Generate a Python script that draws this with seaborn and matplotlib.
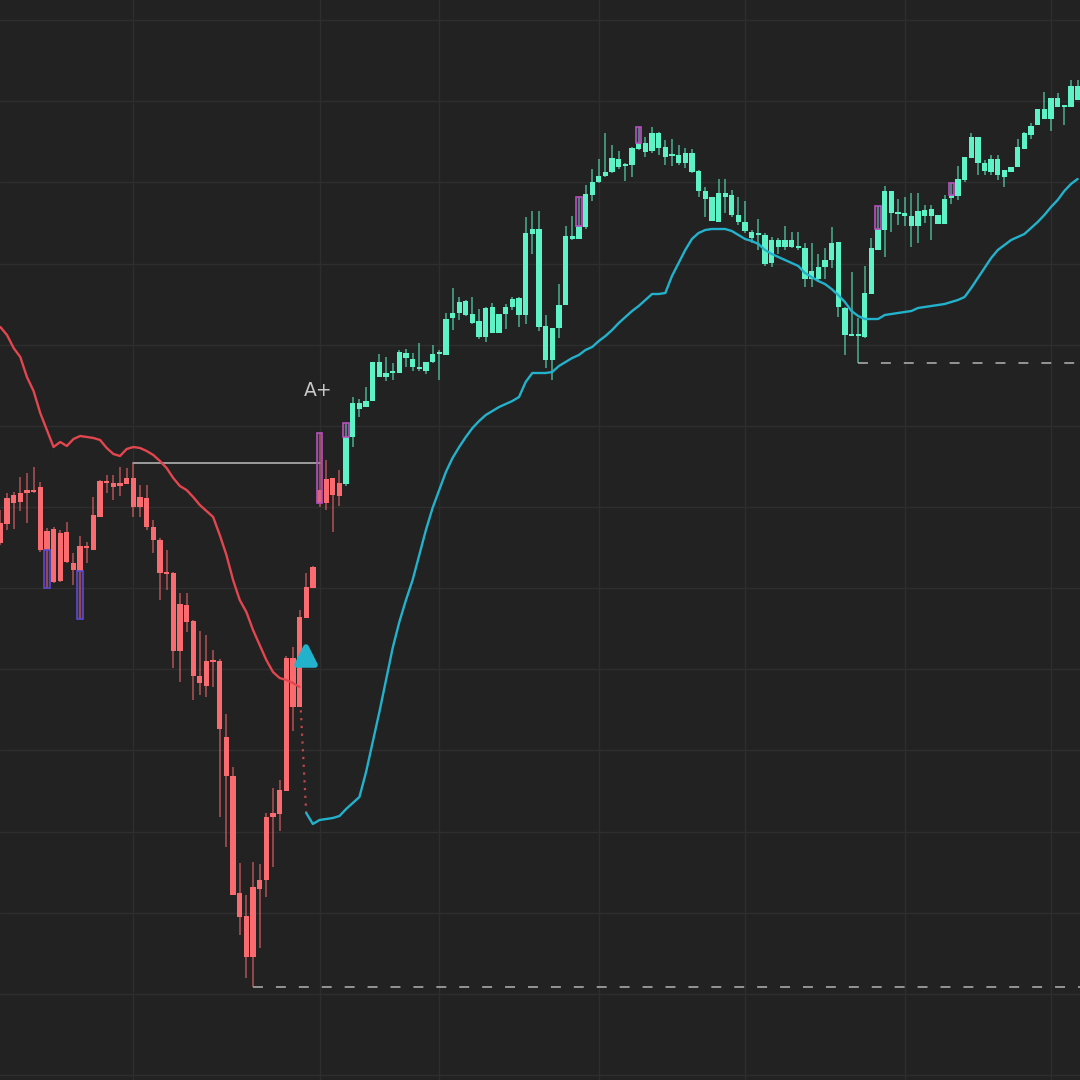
import matplotlib
matplotlib.use('Agg')
import matplotlib.pyplot as plt
from matplotlib.markers import MarkerStyle
import numpy as np
import seaborn as sns

# candle data, one value per bar (bar 0 is the left edge)
opens = [55.7, 58.2, 58.5, 58.7, 59.0, 58.9, 59.3, 54.9, 55.1, 54.7,
         54.8, 51.7, 53.4, 53.3, 56.5, 59.9, 59.9, 59.7, 59.7, 60.2,
         60.2, 58.3, 58.2, 55.3, 54.0, 50.7, 50.7, 47.6, 47.5, 45.9,
         40.4, 41.9, 42.0, 41.9, 34.3, 30.4, 18.7, 16.4, 19.3, 20.0,
         26.3, 26.7, 29.0, 42.2, 42.2, 46.3, 49.3, 51.3, 59.0, 60.1,
         60.2, 59.7, 59.6, 64.3, 67.1, 67.3, 67.9, 70.3, 70.3, 70.7,
         70.7, 72.2, 71.3, 71.1, 70.9, 71.8, 72.6, 72.5, 76.2, 76.7,
         76.5, 75.7, 74.3, 74.3, 74.7, 74.7, 76.6, 77.3, 76.5, 76.5,
         84.6, 75.3, 72.0, 72.0, 75.2, 77.5, 84.1, 84.1, 85.3, 88.5,
         89.8, 90.4, 90.8, 91.3, 91.4, 91.5, 93.1, 92.8, 92.9, 93.2,
         92.3, 92.4, 91.7, 91.7, 90.8, 88.9, 88.1, 85.9, 85.8, 88.3,
         86.5, 85.8, 84.9, 84.2, 84.5, 81.6, 81.7, 83.3, 83.3, 83.3,
         83.2, 80.1, 80.1, 80.1, 81.3, 82.0, 77.3, 74.5, 74.4, 74.4,
         74.3, 78.6, 83.0, 85.0, 86.7, 86.6, 86.4, 85.4, 85.4, 86.4,
         86.4, 85.6, 85.6, 88.2, 88.4, 90.0, 92.2, 91.7, 90.9, 90.8,
         90.5, 90.3, 90.8, 91.3, 93.1, 94.5, 95.5, 96.1, 96.1, 97.3,
         97.3, 97.3, 98.0]
highs = [57.0, 58.7, 58.8, 60.3, 60.7, 61.3, 59.8, 55.2, 55.3, 55.0,
         55.8, 52.7, 54.4, 53.8, 58.3, 60.0, 60.5, 60.5, 61.3, 61.2,
         61.7, 59.5, 59.5, 56.0, 54.2, 53.0, 50.8, 48.7, 48.7, 46.0,
         44.9, 44.5, 43.0, 42.1, 36.6, 31.3, 21.7, 18.5, 21.8, 21.6,
         26.7, 29.2, 30.0, 42.4, 43.3, 47.0, 50.7, 51.4, 64.7, 62.0,
         60.2, 61.0, 65.7, 68.3, 68.1, 69.3, 71.8, 72.6, 72.3, 71.7,
         73.0, 73.1, 72.7, 73.7, 71.8, 73.5, 73.0, 76.7, 79.2, 78.3,
         78.0, 78.3, 77.1, 77.3, 77.7, 76.6, 77.6, 78.3, 78.3, 86.3,
         86.9, 86.9, 76.5, 75.2, 79.6, 85.4, 86.4, 88.3, 89.5, 91.1,
         92.1, 94.7, 93.5, 92.9, 91.7, 93.3, 95.3, 94.3, 95.3, 94.8,
         94.0, 94.1, 93.5, 93.2, 93.1, 91.0, 89.3, 88.3, 90.1, 90.1,
         89.0, 88.3, 87.9, 85.0, 86.1, 84.7, 84.3, 84.2, 85.4, 84.8,
         84.8, 83.7, 83.7, 82.6, 83.2, 85.3, 83.8, 77.3, 80.8, 76.2,
         81.4, 84.2, 87.4, 89.4, 88.9, 88.1, 88.3, 88.7, 88.7, 87.5,
         87.5, 86.5, 88.5, 89.7, 91.4, 92.3, 94.7, 94.3, 92.0, 92.5,
         92.5, 91.0, 91.3, 94.1, 94.8, 95.7, 97.1, 98.8, 98.2, 98.7,
         97.4, 100.0, 100.0]
lows = [53.5, 55.0, 55.1, 56.9, 55.7, 58.7, 52.8, 49.2, 49.7, 49.8,
        51.7, 49.5, 46.1, 51.7, 53.0, 56.3, 58.7, 58.0, 58.4, 59.6,
        56.3, 56.3, 55.0, 52.7, 48.0, 49.0, 41.2, 39.8, 44.8, 38.0,
        38.5, 38.3, 39.3, 26.3, 23.3, 18.5, 14.5, 10.2, 9.3, 13.2,
        18.3, 21.3, 24.9, 28.9, 34.9, 37.3, 46.2, 49.2, 57.3, 57.0,
        54.8, 57.4, 59.4, 63.3, 66.3, 67.3, 67.9, 70.3, 69.9, 70.0,
        70.7, 71.3, 70.9, 70.9, 70.6, 71.7, 70.0, 72.5, 75.0, 76.0,
        76.4, 75.6, 74.1, 73.8, 74.7, 74.7, 75.1, 77.0, 75.3, 75.6,
        82.6, 74.9, 71.2, 70.0, 74.2, 77.5, 84.0, 84.1, 85.1, 87.9,
        89.7, 90.3, 90.7, 91.1, 89.9, 90.3, 93.0, 92.3, 92.7, 92.5,
        91.5, 91.4, 91.5, 91.2, 90.7, 88.3, 86.3, 85.9, 85.8, 86.7,
        86.3, 85.5, 84.7, 83.7, 83.0, 81.4, 81.3, 82.6, 83.0, 83.2,
        83.0, 79.3, 79.3, 79.8, 80.1, 81.2, 76.3, 72.5, 74.4, 71.7,
        74.2, 78.6, 83.0, 82.3, 84.8, 85.5, 85.4, 83.3, 83.7, 85.7,
        84.0, 85.6, 85.6, 87.6, 88.0, 89.8, 92.2, 90.5, 90.5, 90.5,
        90.0, 89.3, 90.8, 91.3, 93.1, 94.1, 95.5, 96.1, 94.9, 97.3,
        95.5, 97.3, 98.0]
closes = [53.7, 55.6, 57.7, 57.8, 58.7, 58.8, 53.0, 53.0, 49.8, 49.9,
          51.8, 51.0, 50.9, 53.2, 53.0, 56.3, 59.7, 59.3, 59.4, 59.6,
          57.3, 57.3, 55.3, 54.0, 50.7, 50.6, 42.9, 42.9, 45.8, 40.4,
          39.7, 39.4, 41.8, 35.1, 30.4, 18.5, 16.3, 12.3, 12.3, 19.1,
          20.0, 26.3, 26.6, 28.9, 37.3, 37.3, 46.2, 49.2, 57.7, 57.7,
          58.5, 58.4, 64.3, 67.7, 67.7, 67.9, 71.8, 71.8, 70.7, 70.8,
          72.8, 72.7, 72.1, 71.3, 71.8, 72.6, 72.7, 76.1, 76.7, 77.8,
          77.9, 76.6, 75.9, 77.2, 77.3, 76.6, 77.3, 78.1, 78.2, 84.7,
          85.1, 85.1, 75.4, 75.2, 77.5, 84.4, 84.4, 85.4, 88.6, 89.8,
          90.4, 90.8, 92.2, 92.1, 91.6, 93.2, 93.7, 93.7, 94.7, 94.7,
          93.3, 92.6, 92.5, 92.7, 92.7, 90.9, 88.9, 88.3, 88.7, 88.7,
          88.5, 86.5, 85.8, 84.8, 84.7, 84.5, 84.0, 84.0, 84.0, 84.0,
          83.4, 83.2, 80.9, 81.3, 82.0, 83.7, 83.8, 77.2, 74.6, 74.6,
          78.7, 83.2, 85.1, 88.9, 88.9, 86.8, 86.7, 86.4, 86.9, 87.0,
          87.1, 86.5, 88.1, 88.5, 90.1, 92.3, 94.3, 94.3, 91.7, 92.1,
          92.1, 91.0, 91.3, 93.3, 94.7, 95.4, 97.1, 97.1, 98.2, 98.2,
          97.4, 99.4, 99.4]

# bearish trailing line (bars 0-45) and bullish trailing line (bars 46-162)
red_line = [75.3, 74.5, 73.2, 72.3, 70.3, 68.9, 66.7, 65.0, 63.3, 63.8,
            63.4, 64.1, 64.4, 64.3, 64.2, 64.0, 63.2, 62.6, 62.4, 63.1,
            63.3, 63.2, 62.9, 62.5, 61.9, 61.2, 60.2, 59.4, 59.0, 58.3,
            57.5, 56.9, 56.3, 54.5, 52.5, 50.0, 48.0, 46.8, 45.0, 43.5,
            42.0, 40.8, 40.2, 40.0, 39.7, 39.3]
teal_line = [26.7, 25.6, 26.0, 26.1, 26.2, 26.4, 27.1, 27.7, 28.3, 30.8,
             33.8, 36.8, 40.0, 43.2, 45.8, 48.0, 50.0, 52.5, 55.0, 57.2,
             59.0, 60.8, 62.2, 63.3, 64.3, 65.2, 65.9, 66.5, 66.9, 67.3,
             67.6, 67.9, 68.3, 69.8, 70.7, 70.7, 70.7, 70.8, 71.4, 71.8,
             72.2, 72.5, 73.0, 73.3, 73.9, 74.4, 75.0, 75.7, 76.3, 76.9,
             77.4, 78.0, 78.6, 78.6, 78.7, 80.4, 81.7, 83.0, 84.1, 84.7,
             85.0, 85.1, 85.1, 85.1, 84.9, 84.5, 84.1, 83.9, 83.6, 83.0,
             82.6, 82.3, 82.0, 81.7, 81.4, 80.7, 80.3, 79.9, 79.6, 79.1,
             78.5, 77.8, 76.9, 76.4, 76.1, 76.1, 76.1, 76.5, 76.6, 76.7,
             76.8, 76.9, 77.2, 77.3, 77.4, 77.5, 77.6, 77.8, 78.0, 78.3,
             79.2, 80.2, 81.2, 82.2, 83.0, 83.5, 84.0, 84.3, 84.6, 85.2,
             85.8, 86.5, 87.3, 88.0, 88.9, 89.6, 90.1]
red_start, teal_start = 0, 46

# highlighted candles (hollow purple boxes)
box_bars = [7, 12, 48, 52, 87, 96, 132, 143]
box_tops = [53.0, 50.9, 64.7, 65.7, 88.3, 95.3, 87.4, 89.7]
box_bottoms = [49.2, 46.1, 57.7, 64.3, 85.4, 93.7, 85.1, 88.5]

# level lines and signal
swing_high_bars, swing_high_level = (20, 48), 61.7
low_levels = [(38, 9.3), (129, 71.7)]
signal_bar, signal_price = 46, 42.4
label_text, label_bar, label_price = 'A+', 47.8, 69.0

grid_bars = [20, 48, 66, 90, 112, 136, 158]

BG = '#222222'
RED = '#f96b6f'
GREEN = '#5ef3c6'
TEAL = '#22b2cc'

sns.set_theme(style='dark', rc={'axes.facecolor': BG, 'figure.facecolor': BG})
plt.rcParams['font.family'] = ['DejaVu Sans']

fig = plt.figure(figsize=(10.8, 10.8), dpi=100)
ax = fig.add_axes([0, 0, 1, 1])
ax.set_facecolor(BG)

o = np.array(opens)
h = np.array(highs)
l = np.array(lows)
c = np.array(closes)
idx = np.arange(len(o))
down = c < o

# wicks then bodies
wick_cols = [(0.976, 0.42, 0.435, 0.6) if d else (0.37, 0.95, 0.78, 0.6) for d in down]
ax.vlines(idx, l, h, colors=wick_cols, linewidth=1.25, zorder=3)
body_cols = [RED if d else GREEN for d in down]
ax.bar(idx, np.maximum(np.abs(c - o), 0.25), bottom=np.minimum(o, c), width=0.8,
       color=body_cols, linewidth=0, zorder=4)

# purple boxes
for b, top, bot in zip(box_bars, box_tops, box_bottoms):
    col = '#5a4bd0' if b < 20 else '#b84fbe'
    ax.bar(b, top - bot, bottom=bot, width=0.8, facecolor=(0.55, 0.3, 0.6, 0.25),
           edgecolor=col, linewidth=1.2, zorder=5)

# trailing lines
sns.lineplot(x=np.arange(red_start, red_start + len(red_line)), y=red_line, ax=ax,
             color='#e3464e', linewidth=1.7, sort=False, zorder=6)
sns.lineplot(x=np.arange(teal_start, teal_start + len(teal_line)), y=teal_line, ax=ax,
             color=TEAL, linewidth=1.7, sort=False, zorder=6)
ax.plot([red_start + len(red_line) - 1, teal_start], [red_line[-1], teal_line[0]],
        color='#c0464c', linewidth=1.6, linestyle=(0, (1, 2.5)), zorder=3.5)

# swing high line and dashed lows
ax.plot(swing_high_bars, [swing_high_level] * 2, color='#bdbdbd', linewidth=1.1, zorder=2)
for b, lvl in low_levels:
    ax.plot([b, 170], [lvl, lvl], color='#b4b4b4', linewidth=1.1,
            dashes=(6.5, 8.5), zorder=2)

ax.plot(signal_bar, signal_price, marker=MarkerStyle('^', joinstyle='round'),
        markersize=13, color=TEAL, markeredgecolor=TEAL, markeredgewidth=4,
        markerfacecolor=TEAL, zorder=7)
ax.text(label_bar, label_price, label_text, color='#c8c8c8', fontsize=13.5,
        ha='center', va='center', zorder=7)

ax.set_xlim(-0.05, 162.36)
ax.set_ylim(0, 108)
ax.set_xticks(grid_bars)
ax.set_yticks(np.arange(0.5, 108, 8.115))
ax.grid(True, color='#2e2e2e', linewidth=1.0)
ax.set_axisbelow(True)
ax.tick_params(length=0, labelbottom=False, labelleft=False)
for s in ax.spines.values():
    s.set_visible(False)

fig.savefig('out.png', dpi=100, facecolor=BG)
